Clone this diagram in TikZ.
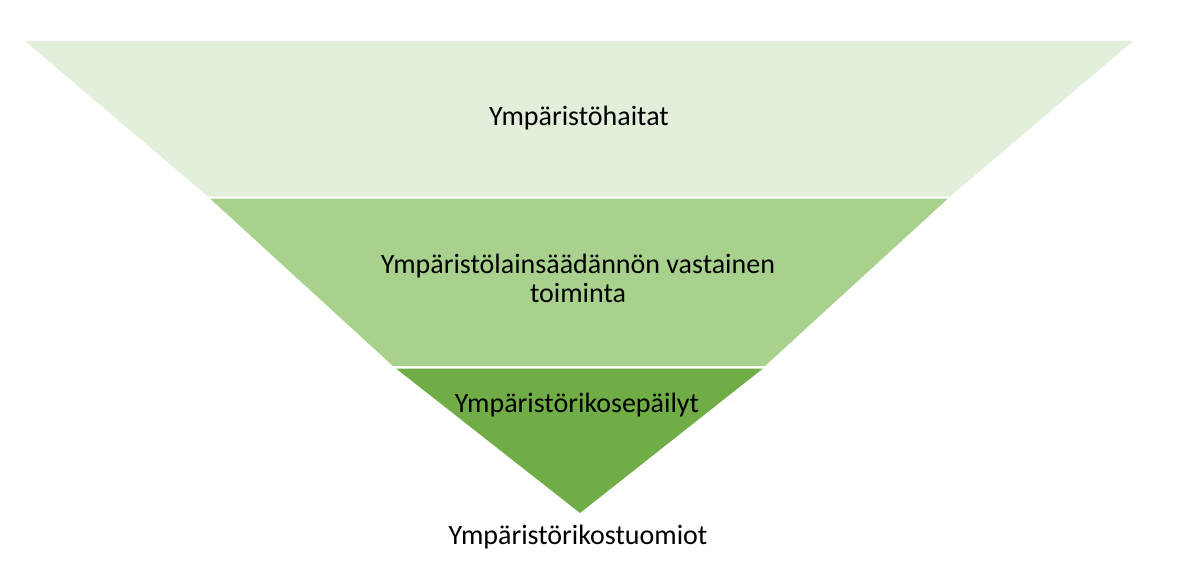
\documentclass[tikz,border=0pt]{standalone}
\usepackage{fontspec}
\setmainfont{Carlito}
\definecolor{bandA}{HTML}{E2EFDA}
\definecolor{bandB}{HTML}{A9D18E}
\definecolor{bandC}{HTML}{70AD47}
\begin{document}
\begin{tikzpicture}[x=1pt,y=-1pt,
  lbl/.style={font=\fontsize{28}{29}\selectfont, text=black, inner sep=0pt, anchor=base, align=center}]
\useasboundingbox (0,0) rectangle (1200,586);
\fill[white] (0,0) rectangle (1200,586);
% bands
\fill[bandA] (25,41) -- (1133,41) -- (950,196.5) -- (208,196.5) -- cycle;
\fill[bandB] (210,198.5) -- (948,198.5) -- (765,366) -- (393,366) -- cycle;
\fill[bandC] (396,368.5) -- (763,368.5) -- (580,513) -- cycle;
% labels
\node[lbl] (haitat) at (579,125) {Ympäristöhaitat};
\node[lbl] (vastainen) at (578,302) {Ympäristölainsäädännön vastainen\\toiminta};
\node[lbl] (epailyt) at (577,412) {Ympäristörikosepäilyt};
\node[lbl] (tuomiot) at (578,544) {Ympäristörikostuomiot};
\end{tikzpicture}
\end{document}
